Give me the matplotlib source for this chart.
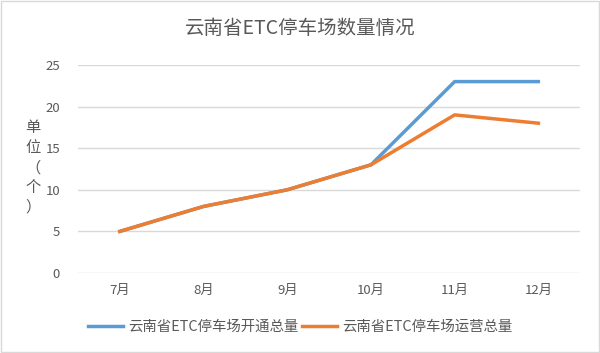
import matplotlib
matplotlib.use("Agg")
import matplotlib.pyplot as plt
from matplotlib.patches import Rectangle

plt.rcParams['font.family'] = ['Noto Sans CJK SC', 'DejaVu Sans']

months = ["7月", "8月", "9月", "10月", "11月", "12月"]
opened = [5, 8, 10, 13, 23, 23]
operating = [5, 8, 10, 13, 19, 18]
series_names = ["云南省ETC停车场开通总量", "云南省ETC停车场运营总量"]
title = "云南省ETC停车场数量情况"
yticks = [0, 5, 10, 15, 20, 25]

fig = plt.figure(figsize=(6, 3.53), dpi=100)
fig.patches.append(Rectangle((0.002, 0.003), 0.996, 0.994, transform=fig.transFigure,
                             fill=False, edgecolor="#D9D9D9", linewidth=1))
ax = fig.add_axes([0.13, 0.2266, 0.837, 0.5894])
x = list(range(len(months)))
ax.plot(x, opened, color="#5B9BD5", linewidth=2.5, label=series_names[0], zorder=3)
ax.plot(x, operating, color="#ED7D31", linewidth=2.5, label=series_names[1], zorder=4)

ax.set_xlim(-0.5, len(months) - 0.5)
ax.set_ylim(0, 25)
ax.set_yticks(yticks)
ax.set_xticks(x)
ax.set_xticklabels(months)
ax.grid(axis="y", color="#D9D9D9", linewidth=1)
ax.set_axisbelow(True)
for s in ax.spines.values():
    s.set_visible(False)
ax.tick_params(axis="both", length=0, colors="#595959", labelsize=9.5)
ax.tick_params(axis="x", pad=8)
ax.tick_params(axis="y", pad=13)

fig.text(0.5, 0.92, title, ha="center", va="center", fontsize=14, color="#595959")
fig.text(0.055, 0.525, "单\n位\n（\n个\n）", ha="center", va="center", fontsize=11,
         color="#595959", linespacing=1.22)

leg = fig.legend(loc="center", bbox_to_anchor=(0.5, 0.073), ncol=2, frameon=False,
                 fontsize=10.4, handlelength=2.4, columnspacing=0.28, handletextpad=0.35,
                 labelcolor="#595959")
fig.savefig("out.png", dpi=100)
